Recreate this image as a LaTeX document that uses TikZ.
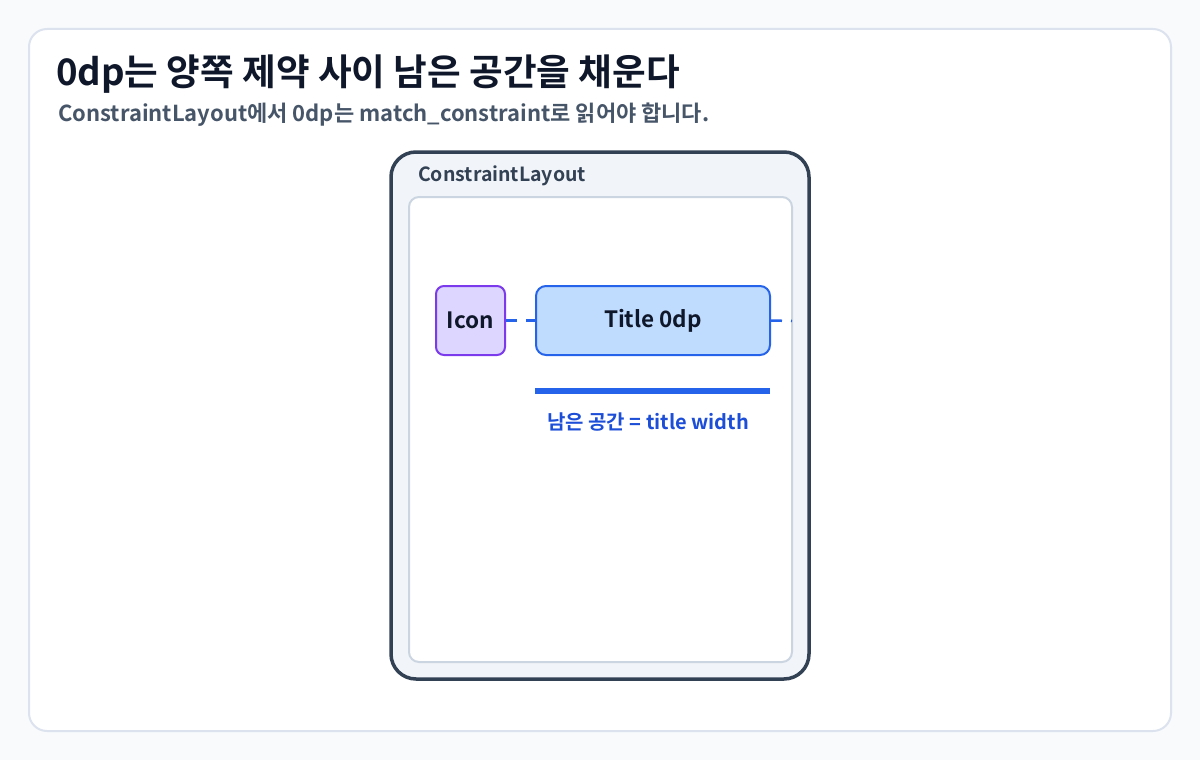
\documentclass[tikz,border=0pt]{standalone}
\usepackage{fontspec}
\setmainfont{Noto Sans CJK KR}[BoldFont={* Bold}]
\definecolor{pagebg}{HTML}{F8FAFC}
\definecolor{cardline}{HTML}{DCE3EE}
\definecolor{ink}{HTML}{0F172A}
\definecolor{subink}{HTML}{475569}
\definecolor{slate}{HTML}{334155}
\definecolor{slatebg}{HTML}{F1F5F9}
\definecolor{innerline}{HTML}{CBD5E1}
\definecolor{violet}{HTML}{7C3AED}
\definecolor{violetbg}{HTML}{DDD6FE}
\definecolor{blueline}{HTML}{2563EB}
\definecolor{bluebg}{HTML}{BFDBFE}
\definecolor{bluetext}{HTML}{1D4ED8}
\begin{document}
\begin{tikzpicture}[x=1pt,y=-1pt,
  card/.style={draw=cardline,line width=2pt,fill=white,rounded corners=18pt},
  layoutbox/.style={draw=slate,line width=3.5pt,fill=slatebg,rounded corners=25pt},
  innerbox/.style={draw=innerline,line width=2pt,fill=white,rounded corners=10pt},
  iconbox/.style={draw=violet,line width=2pt,fill=violetbg,rounded corners=8pt,inner sep=0pt,
    minimum width=69pt,minimum height=69pt,font=\bfseries\fontsize{22.5}{26}\selectfont,text=ink},
  titlebox/.style={draw=blueline,line width=2pt,fill=bluebg,rounded corners=10pt,inner sep=0pt,
    minimum width=234pt,minimum height=69pt,font=\bfseries\fontsize{22.5}{26}\selectfont,text=ink},
  constr/.style={draw=blueline,line width=2.5pt,dash pattern=on 11pt off 9pt},
  lbl/.style={inner sep=0pt,anchor=west}
]
\useasboundingbox (0,0) rectangle (1200,760);
\fill[pagebg] (0,0) rectangle (1200,760);
\draw[card] (29,29) rectangle (1171,731);
\node[lbl,text=ink,font=\bfseries\fontsize{36.6}{40}\selectfont] (title) at (56,74) {0dp는 양쪽 제약 사이 남은 공간을 채운다};
\node[lbl,text=subink,font=\bfseries\fontsize{22}{26}\selectfont] (sub) at (58,115) {ConstraintLayout에서 0dp는 match\_constraint로 읽어야 합니다.};
\draw[layoutbox] (391,152) rectangle (809,679);
\node[lbl,text=slate,font=\bfseries\fontsize{19.5}{23}\selectfont] (cl) at (418,176) {ConstraintLayout};
\draw[innerbox] (409,197) rectangle (792,662);
\coordinate (edge) at (792,321);
\node[iconbox] (icon) at (470.5,320.5) {Icon};
\node[titlebox] (tb) at (653,320.5) {Title 0dp};
\draw[constr] (icon.east) -- (tb.west);
\draw[constr] (tb.east) -- (edge);
\fill[blueline] (535,387.5) rectangle (770,393.5);
\node[inner sep=0pt,text=bluetext,font=\bfseries\fontsize{20}{24}\selectfont] (rem) at (648,422) {남은 공간 = title width};
\end{tikzpicture}
\end{document}
